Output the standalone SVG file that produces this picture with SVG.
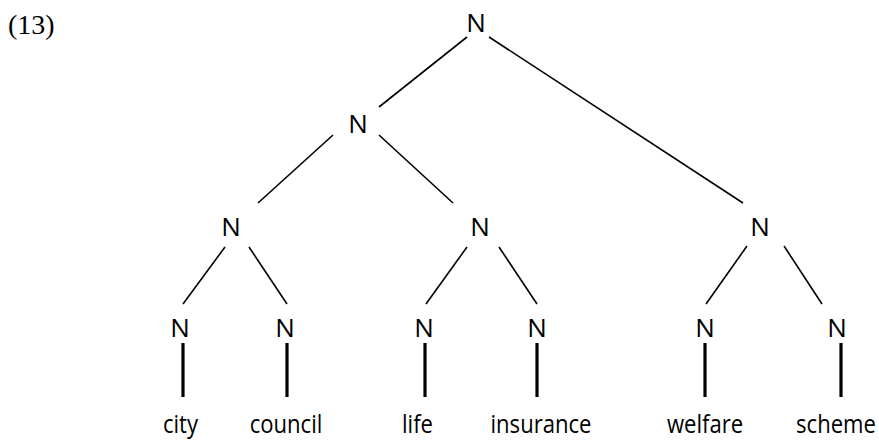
<svg xmlns="http://www.w3.org/2000/svg" width="879" height="441" viewBox="0 0 879 441">
  <style>
    .lab { font-family: "Open Sans", "Noto Sans", "DejaVu Sans", sans-serif; font-size: 26px; fill: #000; text-anchor: middle; }
    .num { font-family: "Liberation Serif", "Times New Roman", serif; font-size: 28px; fill: #000; }
    .branch { stroke: #000; stroke-width: 1.6; fill: none; }
    .stem { stroke: #000; stroke-width: 3.2; fill: none; }
  </style>
  <rect width="879" height="441" fill="#fff"/>
  <text class="num" x="8" y="34">(13)</text>

  <g id="connectors">
    <line class="branch" x1="467" y1="37" x2="379" y2="107"/>
    <line class="branch" x1="489" y1="37" x2="743" y2="203"/>
    <line class="branch" x1="333" y1="135" x2="258" y2="203"/>
    <line class="branch" x1="379" y1="135" x2="453" y2="203"/>
    <line class="branch" x1="225" y1="247" x2="183" y2="304"/>
    <line class="branch" x1="249" y1="247" x2="287" y2="304"/>
    <line class="branch" x1="467" y1="247" x2="426" y2="304"/>
    <line class="branch" x1="499" y1="247" x2="537" y2="304"/>
    <line class="branch" x1="747" y1="246" x2="706" y2="304"/>
    <line class="branch" x1="784" y1="246" x2="822" y2="304"/>
    <line class="stem" x1="183" y1="343" x2="183" y2="397"/>
    <line class="stem" x1="287" y1="343" x2="287" y2="397"/>
    <line class="stem" x1="425" y1="343" x2="425" y2="397"/>
    <line class="stem" x1="537" y1="343" x2="537" y2="397"/>
    <line class="stem" x1="705" y1="343" x2="705" y2="397"/>
    <line class="stem" x1="841" y1="343" x2="841" y2="397"/>
  </g>

  <g id="n-root"><text class="lab" x="476" y="32">N</text></g>
  <g id="n-left"><text class="lab" x="358" y="133">N</text></g>
  <g id="n-city-council"><text class="lab" x="231" y="236">N</text></g>
  <g id="n-life-insurance"><text class="lab" x="480" y="236">N</text></g>
  <g id="n-welfare-scheme"><text class="lab" x="760" y="236">N</text></g>

  <!-- leaf words use a slightly condensed face: scaled horizontally -->
  <g id="n-city"><text class="lab" x="180" y="337">N</text>
    <text class="lab" transform="translate(180.5,433) scale(0.85,1)">city</text></g>
  <g id="n-council"><text class="lab" x="285" y="337">N</text>
    <text class="lab" transform="translate(286,433) scale(0.85,1)">council</text></g>
  <g id="n-life"><text class="lab" x="424" y="337">N</text>
    <text class="lab" transform="translate(417.5,433) scale(0.85,1)">life</text></g>
  <g id="n-insurance"><text class="lab" x="537" y="337">N</text>
    <text class="lab" transform="translate(541,433) scale(0.85,1)">insurance</text></g>
  <g id="n-welfare"><text class="lab" x="705" y="337">N</text>
    <text class="lab" transform="translate(705,433) scale(0.85,1)">welfare</text></g>
  <g id="n-scheme"><text class="lab" x="837" y="337">N</text>
    <text class="lab" transform="translate(836,433) scale(0.85,1)">scheme</text></g>
</svg>
